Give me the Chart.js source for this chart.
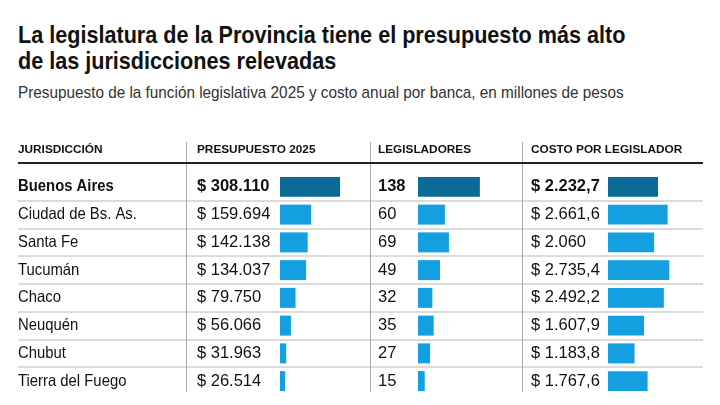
<!DOCTYPE html>
<html>
<head>
<meta charset="utf-8">
<script src="https://cdn.jsdelivr.net/npm/chart.js@4"></script>
<style>
  body { margin: 0; width: 720px; height: 405px; background: #fff; overflow: hidden; position: relative; font-family: 'Liberation Sans', Arial, sans-serif; }
  .titulo { position: absolute; left: 18px; top: 22px; font-weight: bold; font-size: 24px; line-height: 26px; color: #111; white-space: nowrap; transform: scaleX(0.9); transform-origin: left top; }
  .bajada { position: absolute; left: 18px; top: 83px; font-size: 17px; color: #333; white-space: nowrap; transform: scaleX(0.9); transform-origin: left top; }
  canvas { position: absolute; left: 0; top: 0; }
</style>
</head>
<body>
<div class="titulo">La legislatura de la Provincia tiene el presupuesto más alto<br>de las jurisdicciones relevadas</div>
<div class="bajada">Presupuesto de la función legislativa 2025 y costo anual por banca, en millones de pesos</div>
<canvas id="presChart" width="720" height="405"></canvas>
<canvas id="legChart" width="720" height="405"></canvas>
<canvas id="costoChart" width="720" height="405"></canvas>
<script>
// Datos
const jurisdicciones = ['Buenos Aires', 'Ciudad de Bs. As.', 'Santa Fe', 'Tucumán', 'Chaco', 'Neuquén', 'Chubut', 'Tierra del Fuego'];
const presupuesto = [308110, 159694, 142138, 134037, 79750, 56066, 31963, 26514];
const legisladores = [138, 60, 69, 49, 32, 35, 27, 15];
const costo = [2232.7, 2661.6, 2060, 2735.4, 2492.2, 1607.9, 1183.8, 1767.6];
const encabezados = ['JURISDICCIÓN', 'PRESUPUESTO 2025', 'LEGISLADORES', 'COSTO POR LEGISLADOR'];

const OSCURO = '#0a6b96';
const CLARO = '#149fe0';
const FUENTE = "'Liberation Sans', Arial, sans-serif";

// formato argentino: punto de miles, coma decimal
function fmt(v) {
    let [ent, dec] = Math.abs(v).toFixed(1).split('.');
    ent = ent.replace(/\B(?=(\d{3})+(?!\d))/g, '.');
    return ent + (dec !== '0' ? ',' + dec : '');
}

// texto con compresión horizontal opcional (la tipografía original es angosta)
function texto(ctx, s, x, y, bold, sx) {
    ctx.save();
    ctx.translate(x, y);
    ctx.scale(sx, 1);
    ctx.font = (bold ? 'bold ' : '') + '16.5px ' + FUENTE;
    ctx.fillText(s, 0, 0);
    ctx.restore();
}

// valores a la izquierda de cada barra
const etiquetas = {
    id: 'etiquetas',
    afterDatasetsDraw(chart, args, opts) {
        const ctx = chart.ctx;
        const y = chart.scales.y;
        ctx.save();
        ctx.textBaseline = 'middle';
        ctx.fillStyle = '#111';
        chart.data.datasets[0].data.forEach((v, i) => {
            texto(ctx, opts.format(v), opts.x, y.getPixelForValue(i), i === 0, 1);
        });
        ctx.restore();
    }
};

// marco de la tabla: encabezados, líneas y nombres
const tabla = {
    id: 'tabla',
    beforeDatasetsDraw(chart) {
        const ctx = chart.ctx;
        const y = chart.scales.y;
        const left = 18, right = 703;
        ctx.save();
        // líneas de filas
        ctx.strokeStyle = '#cfcfcf';
        ctx.lineWidth = 1.5;
        for (let i = 0; i < jurisdicciones.length - 1; i++) {
            const py = Math.round((y.getPixelForValue(i) + y.getPixelForValue(i + 1)) / 2);
            ctx.beginPath();
            ctx.moveTo(left, py);
            ctx.lineTo(right, py);
            ctx.stroke();
        }
        // separadores verticales
        ctx.strokeStyle = '#a8a8a8';
        ctx.lineWidth = 1;
        [186.5, 370.5, 522.5].forEach(x => {
            ctx.beginPath();
            ctx.moveTo(x, 142);
            ctx.lineTo(x, 392);
            ctx.stroke();
        });
        // línea del encabezado
        ctx.strokeStyle = '#222';
        ctx.lineWidth = 2;
        ctx.beginPath();
        ctx.moveTo(left, 163);
        ctx.lineTo(right, 163);
        ctx.stroke();
        // encabezados
        ctx.fillStyle = '#111';
        ctx.textBaseline = 'middle';
        ctx.font = 'bold 11.8px ' + FUENTE;
        [18, 197, 378, 531].forEach((x, i) => ctx.fillText(encabezados[i], x, 150));
        // jurisdicciones
        jurisdicciones.forEach((j, i) => texto(ctx, j, 18, y.getPixelForValue(i), i === 0, 0.9));
        ctx.restore();
    }
};

function columna(id, valores, max, padLeft, padRight, labelX, format, extra) {
    const ctx = document.getElementById(id).getContext('2d');
    return new Chart(ctx, {
        type: 'bar',
        data: {
            labels: jurisdicciones,
            datasets: [{
                data: valores,
                backgroundColor: valores.map((v, i) => i === 0 ? OSCURO : CLARO),
                borderWidth: 0
            }]
        },
        options: {
            indexAxis: 'y',
            responsive: false,
            animation: false,
            layout: { padding: { left: padLeft, right: padRight, top: 173, bottom: 10 } },
            scales: {
                x: { display: false, min: 0, max: max },
                y: { display: false }
            },
            plugins: {
                legend: { display: false },
                tooltip: { enabled: false },
                etiquetas: { x: labelX, format: format }
            }
        },
        plugins: extra ? [tabla, etiquetas] : [etiquetas]
    });
}

const presChart = columna('presChart', presupuesto, 462000, 280, 350, 197, v => '$ ' + fmt(v), true);
const legChart = columna('legChart', legisladores, 232, 418, 198, 378, v => fmt(v), false);
const costoChart = columna('costoChart', costo, 4240, 608, 17, 531, v => '$ ' + fmt(v), false);
</script>
</body>
</html>
